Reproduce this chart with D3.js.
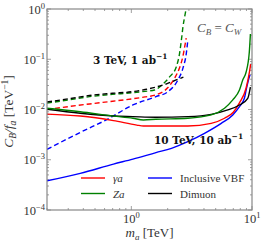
<!DOCTYPE html>
<html>
<head>
<meta charset="utf-8">
<script src="https://cdn.jsdelivr.net/npm/d3@7"></script>
<style>
  body { margin: 0; background: #fff; }
  text { font-family: "Liberation Serif", "DejaVu Serif", serif; fill: #333; }
</style>
</head>
<body>
<svg id="chart" width="266" height="245"></svg>
<script>
// mass (TeV) and C_B/f_a (TeV^-1)
// 3 TeV, 1 ab^-1 (dashed)
const gammaA3 = [[0.2,0.0100],[0.3,0.0114],[0.45,0.0129],[0.7,0.0146],[1.0,0.0162],[1.3,0.0178],[1.6,0.0196],[2.0,0.0270],[2.28,0.0418],[2.5,0.066],[2.67,0.112],[2.8,0.208],[2.85,0.264]];
const zA3 = [[0.2,0.0134],[0.3,0.0155],[0.45,0.0180],[0.7,0.0200],[1.0,0.0215],[1.3,0.0230],[1.56,0.0244],[1.8,0.031],[2.08,0.045],[2.36,0.071],[2.51,0.131],[2.6,0.242],[2.68,0.445],[2.8,0.82],[2.9,1.3]];
const vbf3 = [[0.2,0.00161],[0.377,0.0035],[0.643,0.0065],[1.03,0.0123],[1.6,0.0180],[2.01,0.0226],[2.43,0.0386],[2.675,0.066],[2.855,0.131],[2.94,0.242]];
const dimuon3 = [[0.2,0.0141],[0.3,0.0163],[0.45,0.0190],[0.7,0.0210],[1.0,0.0225],[1.3,0.0250],[1.6,0.0280],[2.0,0.0330],[2.3,0.0380],[2.7,0.0440]];
// 10 TeV, 10 ab^-1 (solid)
const gammaA10 = [[0.2,0.0081],[0.377,0.0074],[0.711,0.0060],[1.11,0.0049],[1.26,0.0047],[2.0,0.0047],[2.94,0.0047],[4.59,0.0053],[5.92,0.0067],[7.0,0.0088],[7.87,0.0135],[8.94,0.0268],[9.52,0.0557],[9.75,0.080]];
const zA10 = [[0.2,0.0106],[0.377,0.0090],[0.711,0.0074],[1.03,0.0067],[1.26,0.0062],[1.6,0.0064],[2.94,0.0067],[4.59,0.0078],[5.92,0.0106],[6.93,0.0155],[7.87,0.0244],[8.38,0.0386],[8.94,0.0557],[9.5,0.139],[9.7,0.318]];
const vbf10 = [[0.2,0.000383],[0.377,0.000537],[0.711,0.00082],[1.03,0.00103],[1.6,0.00139],[2.15,0.00169],[2.94,0.00229],[4.04,0.00336],[5.56,0.0053],[6.93,0.0078],[7.87,0.0114],[8.65,0.0167],[8.94,0.0244],[9.52,0.045],[9.65,0.049]];
const dimuon10 = [[0.2,0.0101],[0.377,0.0084],[0.711,0.0074],[1.03,0.0072],[1.6,0.0070],[2.94,0.0072],[4.59,0.0080],[6.3,0.0098],[7.87,0.0123],[9.22,0.0167],[9.7,0.028]];

const xMajor = [1, 10];
const yMajor = [1, 0.1, 0.01, 0.001, 0.0001];
const yExp = ["0", "\u22121", "\u22122", "\u22123", "\u22124"];
const xExp = ["0", "1"];

const svg = d3.select("#chart"),
  margin = {top: 9, right: 14, bottom: 35, left: 47},
  width = +svg.attr("width"),
  height = +svg.attr("height"),
  frameColor = "#888";

const x = d3.scaleLog().domain([0.2, 10]).range([margin.left, width - margin.right]);
const y = d3.scaleLog().domain([1e-4, 1]).range([height - margin.bottom, margin.top]);

svg.append("clipPath").attr("id", "plotclip")
  .append("rect")
  .attr("x", x.range()[0]).attr("y", y.range()[1])
  .attr("width", x.range()[1] - x.range()[0])
  .attr("height", y.range()[0] - y.range()[1]);

// ticks, inward on all four sides
const xMinor = [0.2,0.3,0.4,0.5,0.6,0.7,0.8,0.9,2,3,4,5,6,7,8,9];
let yMinor = [];
for (let e = -4; e < 0; e++) {
  for (let k = 2; k <= 9; k++) yMinor.push(k * Math.pow(10, e));
}
const ticks = svg.append("g").attr("stroke", frameColor).attr("stroke-width", 0.8);
const x0 = x.range()[0], x1 = x.range()[1], y0 = y.range()[0], y1 = y.range()[1];
xMinor.concat(xMajor).forEach(function (v) {
  const len = xMajor.indexOf(v) >= 0 ? 4 : 2;
  ticks.append("line").attr("x1", x(v)).attr("x2", x(v)).attr("y1", y0).attr("y2", y0 - len);
  ticks.append("line").attr("x1", x(v)).attr("x2", x(v)).attr("y1", y1).attr("y2", y1 + len);
});
yMinor.concat(yMajor).forEach(function (v) {
  const len = yMajor.indexOf(v) >= 0 ? 4 : 2;
  ticks.append("line").attr("y1", y(v)).attr("y2", y(v)).attr("x1", x0).attr("x2", x0 + len);
  ticks.append("line").attr("y1", y(v)).attr("y2", y(v)).attr("x1", x1).attr("x2", x1 - len);
});

// curves
const line = d3.line()
  .x(function (d) { return x(d[0]); })
  .y(function (d) { return y(d[1]); })
  .curve(d3.curveMonotoneX);

const curves = [
  {data: vbf3, color: "#0000ff", dash: "5,3"},
  {data: gammaA3, color: "#ff0000", dash: "5,3"},
  {data: zA3, color: "#008000", dash: "5,3"},
  {data: dimuon3, color: "#000000", dash: "5,3"},
  {data: vbf10, color: "#0000ff", dash: null},
  {data: gammaA10, color: "#ff0000", dash: null},
  {data: dimuon10, color: "#000000", dash: null},
  {data: zA10, color: "#008000", dash: null},
];

const g = svg.append("g").attr("clip-path", "url(#plotclip)");
curves.forEach(function (c) {
  g.append("path")
    .attr("d", line(c.data))
    .attr("fill", "none")
    .attr("stroke", c.color)
    .attr("stroke-width", 1.4)
    .attr("stroke-dasharray", c.dash);
});

// frame
svg.append("rect")
  .attr("x", x0).attr("y", y1)
  .attr("width", x1 - x0).attr("height", y0 - y1)
  .attr("fill", "none")
  .attr("stroke", frameColor)
  .attr("stroke-width", 1.2);

// tick labels
const power = function (sel, exp) {
  sel.append("tspan").text("10");
  sel.append("tspan").attr("dy", -5).attr("font-size", 8.5).text(exp);
};
xMajor.forEach(function (v, i) {
  svg.append("text").attr("x", x(v)).attr("y", y0 + 13)
    .attr("text-anchor", "middle").attr("font-size", 12.5)
    .call(power, xExp[i]);
});
yMajor.forEach(function (v, i) {
  svg.append("text").attr("x", x0 - 2).attr("y", y(v) + 4.5)
    .attr("text-anchor", "end").attr("font-size", 12.5)
    .call(power, yExp[i]);
});

// axis titles
const xt = svg.append("text").attr("x", (x0 + x1) / 2).attr("y", 237)
  .attr("text-anchor", "middle").attr("font-size", 13);
xt.append("tspan").attr("font-style", "italic").text("m");
xt.append("tspan").attr("font-style", "italic").attr("font-size", 9).attr("dy", 2.5).text("a");
xt.append("tspan").attr("dy", -2.5).text(" [TeV]");

const yt = svg.append("text")
  .attr("transform", "translate(13," + ((y0 + y1) / 2 + 2) + ") rotate(-90)")
  .attr("text-anchor", "middle").attr("font-size", 13.5);
yt.append("tspan").attr("font-style", "italic").text("C");
yt.append("tspan").attr("font-style", "italic").attr("font-size", 9.5).attr("dy", 2.5).text("B");
yt.append("tspan").attr("dy", -2.5).attr("font-style", "italic").text("/f");
yt.append("tspan").attr("font-style", "italic").attr("font-size", 9.5).attr("dy", 2.5).text("a");
yt.append("tspan").attr("dy", -2.5).text(" [TeV");
yt.append("tspan").attr("dy", -5).attr("font-size", 9.5).text("\u22121");
yt.append("tspan").attr("dy", 5).text("]");

// annotations
const a3 = svg.append("text").attr("x", 93).attr("y", 64)
  .attr("font-size", 10.5).attr("font-weight", "bold")
  .style("font-family", "'DejaVu Serif', serif").style("fill", "#111");
a3.append("tspan").text("3 TeV, 1 ab");
a3.append("tspan").attr("dy", -5).attr("font-size", 7.5).text("\u22121");

const a10 = svg.append("text").attr("x", 154).attr("y", 144)
  .attr("font-size", 10.5).attr("font-weight", "bold")
  .style("font-family", "'DejaVu Serif', serif").style("fill", "#111");
a10.append("tspan").text("10 TeV, 10 ab");
a10.append("tspan").attr("dy", -5).attr("font-size", 7.5).text("\u22121");

const cw = svg.append("text").attr("x", 197).attr("y", 32)
  .attr("font-size", 13).style("fill", "#555");
cw.append("tspan").attr("font-style", "italic").text("C");
cw.append("tspan").attr("font-style", "italic").attr("font-size", 9).attr("dy", 2.5).text("B");
cw.append("tspan").attr("dy", -2.5).text(" = ");
cw.append("tspan").attr("font-style", "italic").text("C");
cw.append("tspan").attr("font-style", "italic").attr("font-size", 9).attr("dy", 2.5).text("W");

// legend
const legend = [
  {label: "\u03b3a", color: "#ff0000", lx: 81, ly: 178},
  {label: "Za", color: "#008000", lx: 81, ly: 193.5},
  {label: "Inclusive VBF", color: "#0000ff", lx: 148, ly: 178},
  {label: "Dimuon", color: "#000000", lx: 148, ly: 193.5},
];
legend.forEach(function (d) {
  svg.append("line")
    .attr("x1", d.lx).attr("x2", d.lx + 24)
    .attr("y1", d.ly).attr("y2", d.ly)
    .attr("stroke", d.color).attr("stroke-width", 1.4);
  svg.append("text")
    .attr("x", d.lx + 32).attr("y", d.ly + 4)
    .attr("font-size", 11)
    .attr("font-style", d.label.length <= 2 ? "italic" : "normal")
    .text(d.label);
});
</script>
</body>
</html>
